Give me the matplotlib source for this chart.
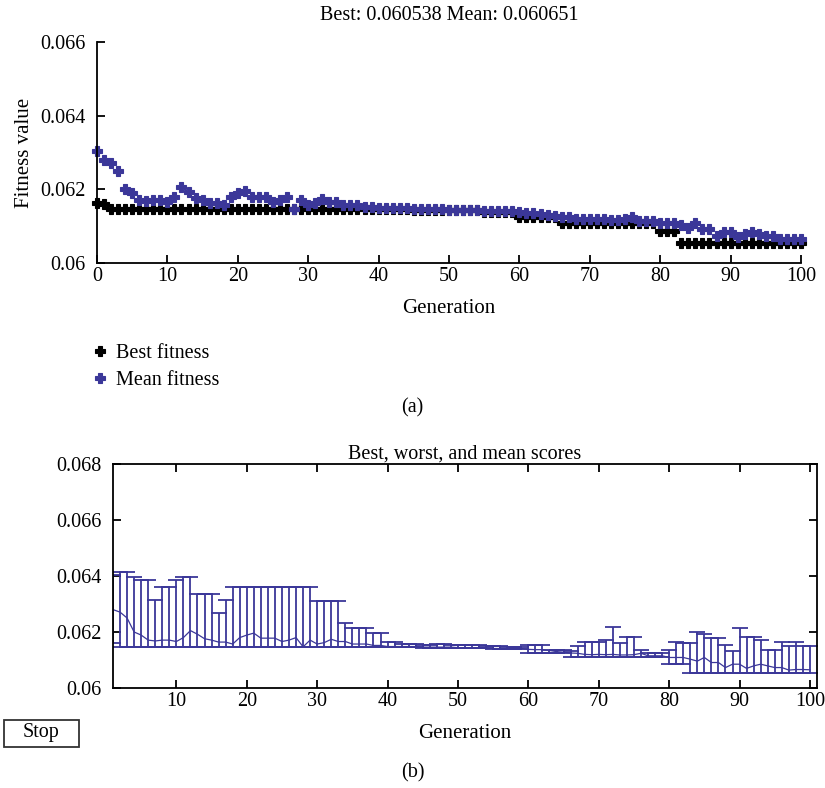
import numpy as np
import matplotlib
matplotlib.use('Agg')
import matplotlib.pyplot as plt
from matplotlib.patches import Rectangle

plt.rcParams['font.family'] = ['Liberation Serif', 'DejaVu Serif']
plt.rcParams['font.size'] = 14.5

# generations 0..100 (top panel), 1..100 (bottom panel)
gens = np.arange(0, 101)

best_fit = [
    0.06163, 0.06160, 0.06147, 0.06147, 0.06147, 0.06147, 0.06147, 0.06147, 0.06147, 0.06147,
    0.06147, 0.06147, 0.06147, 0.06147, 0.06147, 0.06147, 0.06147, 0.06147, 0.06147, 0.06147,
    0.06147, 0.06147, 0.06147, 0.06147, 0.06147, 0.06147, 0.06147, 0.06147, 0.06147, 0.06147,
    0.06147, 0.06147, 0.06147, 0.06147, 0.06147, 0.06147, 0.06147, 0.06147, 0.06147, 0.06147,
    0.06147, 0.06147, 0.06147, 0.06147, 0.06147, 0.06144, 0.06144, 0.06144, 0.06144, 0.06144,
    0.06144, 0.06144, 0.06144, 0.06144, 0.06144, 0.06139, 0.06139, 0.06139, 0.06139, 0.06139,
    0.06125, 0.06125, 0.06125, 0.06125, 0.06125, 0.06125, 0.06109, 0.06109, 0.06109, 0.06109,
    0.06109, 0.06109, 0.06109, 0.06109, 0.06109, 0.06109, 0.06109, 0.06109, 0.06109, 0.06109,
    0.06087, 0.06087, 0.06087, 0.060538, 0.060538, 0.060538, 0.060538, 0.060538, 0.060538, 0.060538,
    0.060538, 0.060538, 0.060538, 0.060538, 0.060538, 0.060538, 0.060538, 0.060538, 0.060538, 0.060538,
    0.060538,
]

mean_fit = [
    0.06305, 0.06280, 0.06271, 0.06250, 0.06200, 0.06189, 0.06171, 0.06168, 0.06171, 0.06171,
    0.06166, 0.06180, 0.06205, 0.06192, 0.06176, 0.06171, 0.06164, 0.06164, 0.06157, 0.06180,
    0.06189, 0.06196, 0.06178, 0.06178, 0.06178, 0.06166, 0.06171, 0.06180, 0.06147, 0.06171,
    0.06157, 0.06162, 0.06174, 0.06166, 0.06166, 0.06157, 0.06157, 0.06157, 0.06152, 0.06152,
    0.06148, 0.06148, 0.06148, 0.06148, 0.06148, 0.06146, 0.06146, 0.06146, 0.06146, 0.06146,
    0.06144, 0.06144, 0.06144, 0.06144, 0.06144, 0.06141, 0.06141, 0.06141, 0.06141, 0.06141,
    0.06138, 0.06137, 0.06137, 0.06134, 0.06130, 0.06128, 0.06125, 0.06124, 0.06120, 0.06119,
    0.06120, 0.06119, 0.06120, 0.06118, 0.06118, 0.06119, 0.06124, 0.06115, 0.06115, 0.06115,
    0.06109, 0.06109, 0.06109, 0.06103, 0.06096, 0.06109, 0.06091, 0.06091, 0.06073, 0.06085,
    0.06085, 0.06070, 0.06079, 0.06085, 0.06079, 0.06073, 0.06073, 0.06064, 0.06066, 0.06066,
    0.060651,
]

# worst score per generation, generations 1..100
worst_fit = [
    0.06404, 0.06415, 0.06413, 0.06398, 0.06386, 0.06386, 0.06314, 0.06362, 0.06362, 0.06386,
    0.06398, 0.06398, 0.06335, 0.06335, 0.06335, 0.06269, 0.06314, 0.06362, 0.06362, 0.06362,
    0.06362, 0.06362, 0.06362, 0.06362, 0.06362, 0.06362, 0.06362, 0.06362, 0.06362, 0.06310,
    0.06310, 0.06310, 0.06310, 0.06232, 0.06213, 0.06213, 0.06213, 0.06195, 0.06195, 0.06164,
    0.06164, 0.06157, 0.06157, 0.06157, 0.06152, 0.06152, 0.06157, 0.06157, 0.06152, 0.06152,
    0.06152, 0.06152, 0.06152, 0.06150, 0.06150, 0.06150, 0.06145, 0.06145, 0.06145, 0.06154,
    0.06154, 0.06154, 0.06136, 0.06136, 0.06136, 0.06132, 0.06150, 0.06165, 0.06165, 0.06165,
    0.06170, 0.06219, 0.06161, 0.06183, 0.06183, 0.06136, 0.06126, 0.06126, 0.06126, 0.06136,
    0.06165, 0.06161, 0.06161, 0.06201, 0.06194, 0.06177, 0.06177, 0.06154, 0.06132, 0.06213,
    0.06183, 0.06183, 0.06171, 0.06136, 0.06136, 0.06165, 0.06150, 0.06165, 0.06150, 0.06150,
]

blue = '#3b3799'

fig = plt.figure(figsize=(8.25, 7.88), dpi=100)

# ---- (a) fitness plot
ax1 = fig.add_axes([97/825, 1-263/788, 704/825, 221/788])
ax1.plot(gens, best_fit, 'P', color='black', markersize=7.5, markeredgewidth=0.8,
         clip_on=False, label='Best fitness')
ax1.plot(gens, mean_fit, 'P', color=blue, markersize=7.5, markeredgewidth=0.8,
         clip_on=False, label='Mean fitness')
ax1.set_xlim(0, 100)
ax1.set_ylim(0.060, 0.066)
ax1.set_xticks(np.arange(0, 101, 10))
ax1.set_yticks([0.060, 0.062, 0.064, 0.066])
ax1.set_yticklabels(['0.06', '0.062', '0.064', '0.066'])
for s in ['top', 'right']:
    ax1.spines[s].set_visible(False)
for s in ['left', 'bottom']:
    ax1.spines[s].set_linewidth(1.3)
ax1.tick_params(direction='in', length=6, width=1.3)
ax1.tick_params(axis='y', pad=8)
ax1.tick_params(axis='x', pad=3)
ax1.get_xticklines()[10].set_color('#aaaaaa')
ax1.set_title('Best: 0.060538 Mean: 0.060651', pad=16, fontsize=14.5)
ax1.set_xlabel('Generation', labelpad=9, fontsize=15)
ax1.set_ylabel('Fitness value', labelpad=5, fontsize=15)

fig.legend(loc='upper left', bbox_to_anchor=(82/825, 1-334/788), frameon=False,
           handlelength=0.8, handletextpad=0.4, labelspacing=0.4, borderpad=0)

fig.text(0.5, 1-408/788, '(a)', ha='center', va='center')

# ---- (b) best, worst, mean scores
ax2 = fig.add_axes([113/825, 1-688/788, 704/825, 224/788])
g2 = gens[1:]
b2 = np.array(best_fit[1:])
m2 = np.array(mean_fit[1:])
w2 = np.array(worst_fit)
yerr = [np.clip(m2 - b2, 0, None), np.clip(w2 - m2, 0, None)]
ax2.errorbar(g2, m2, yerr=yerr, color=blue, linewidth=0.9, elinewidth=1.3,
             capsize=5.5, capthick=1.3)
ax2.set_xlim(1, 101)
ax2.set_ylim(0.060, 0.068)
ax2.set_xticks(np.arange(10, 101, 10))
ax2.set_yticks([0.060, 0.062, 0.064, 0.066, 0.068])
ax2.set_yticklabels(['0.06', '0.062', '0.064', '0.066', '0.068'])
for s in ax2.spines.values():
    s.set_linewidth(1.3)
ax2.tick_params(direction='in', length=6, width=1.3, top=True, right=True)
ax2.tick_params(axis='y', pad=8)
ax2.tick_params(axis='x', pad=3)
ax2.set_title('Best, worst, and mean scores', pad=4, fontsize=14.5)
ax2.set_xlabel('Generation', labelpad=9, fontsize=15)

# Stop button
fig.patches.append(Rectangle((4/825, 1-747/788), 75/825, 27/788, transform=fig.transFigure,
                             facecolor='white', edgecolor='#333333', linewidth=1.3))
fig.text(41/825, 1-733/788, 'Stop', ha='center', va='center')

fig.text(0.5, 1-773/788, '(b)', ha='center', va='center')

fig.savefig('out.png', dpi=100)
